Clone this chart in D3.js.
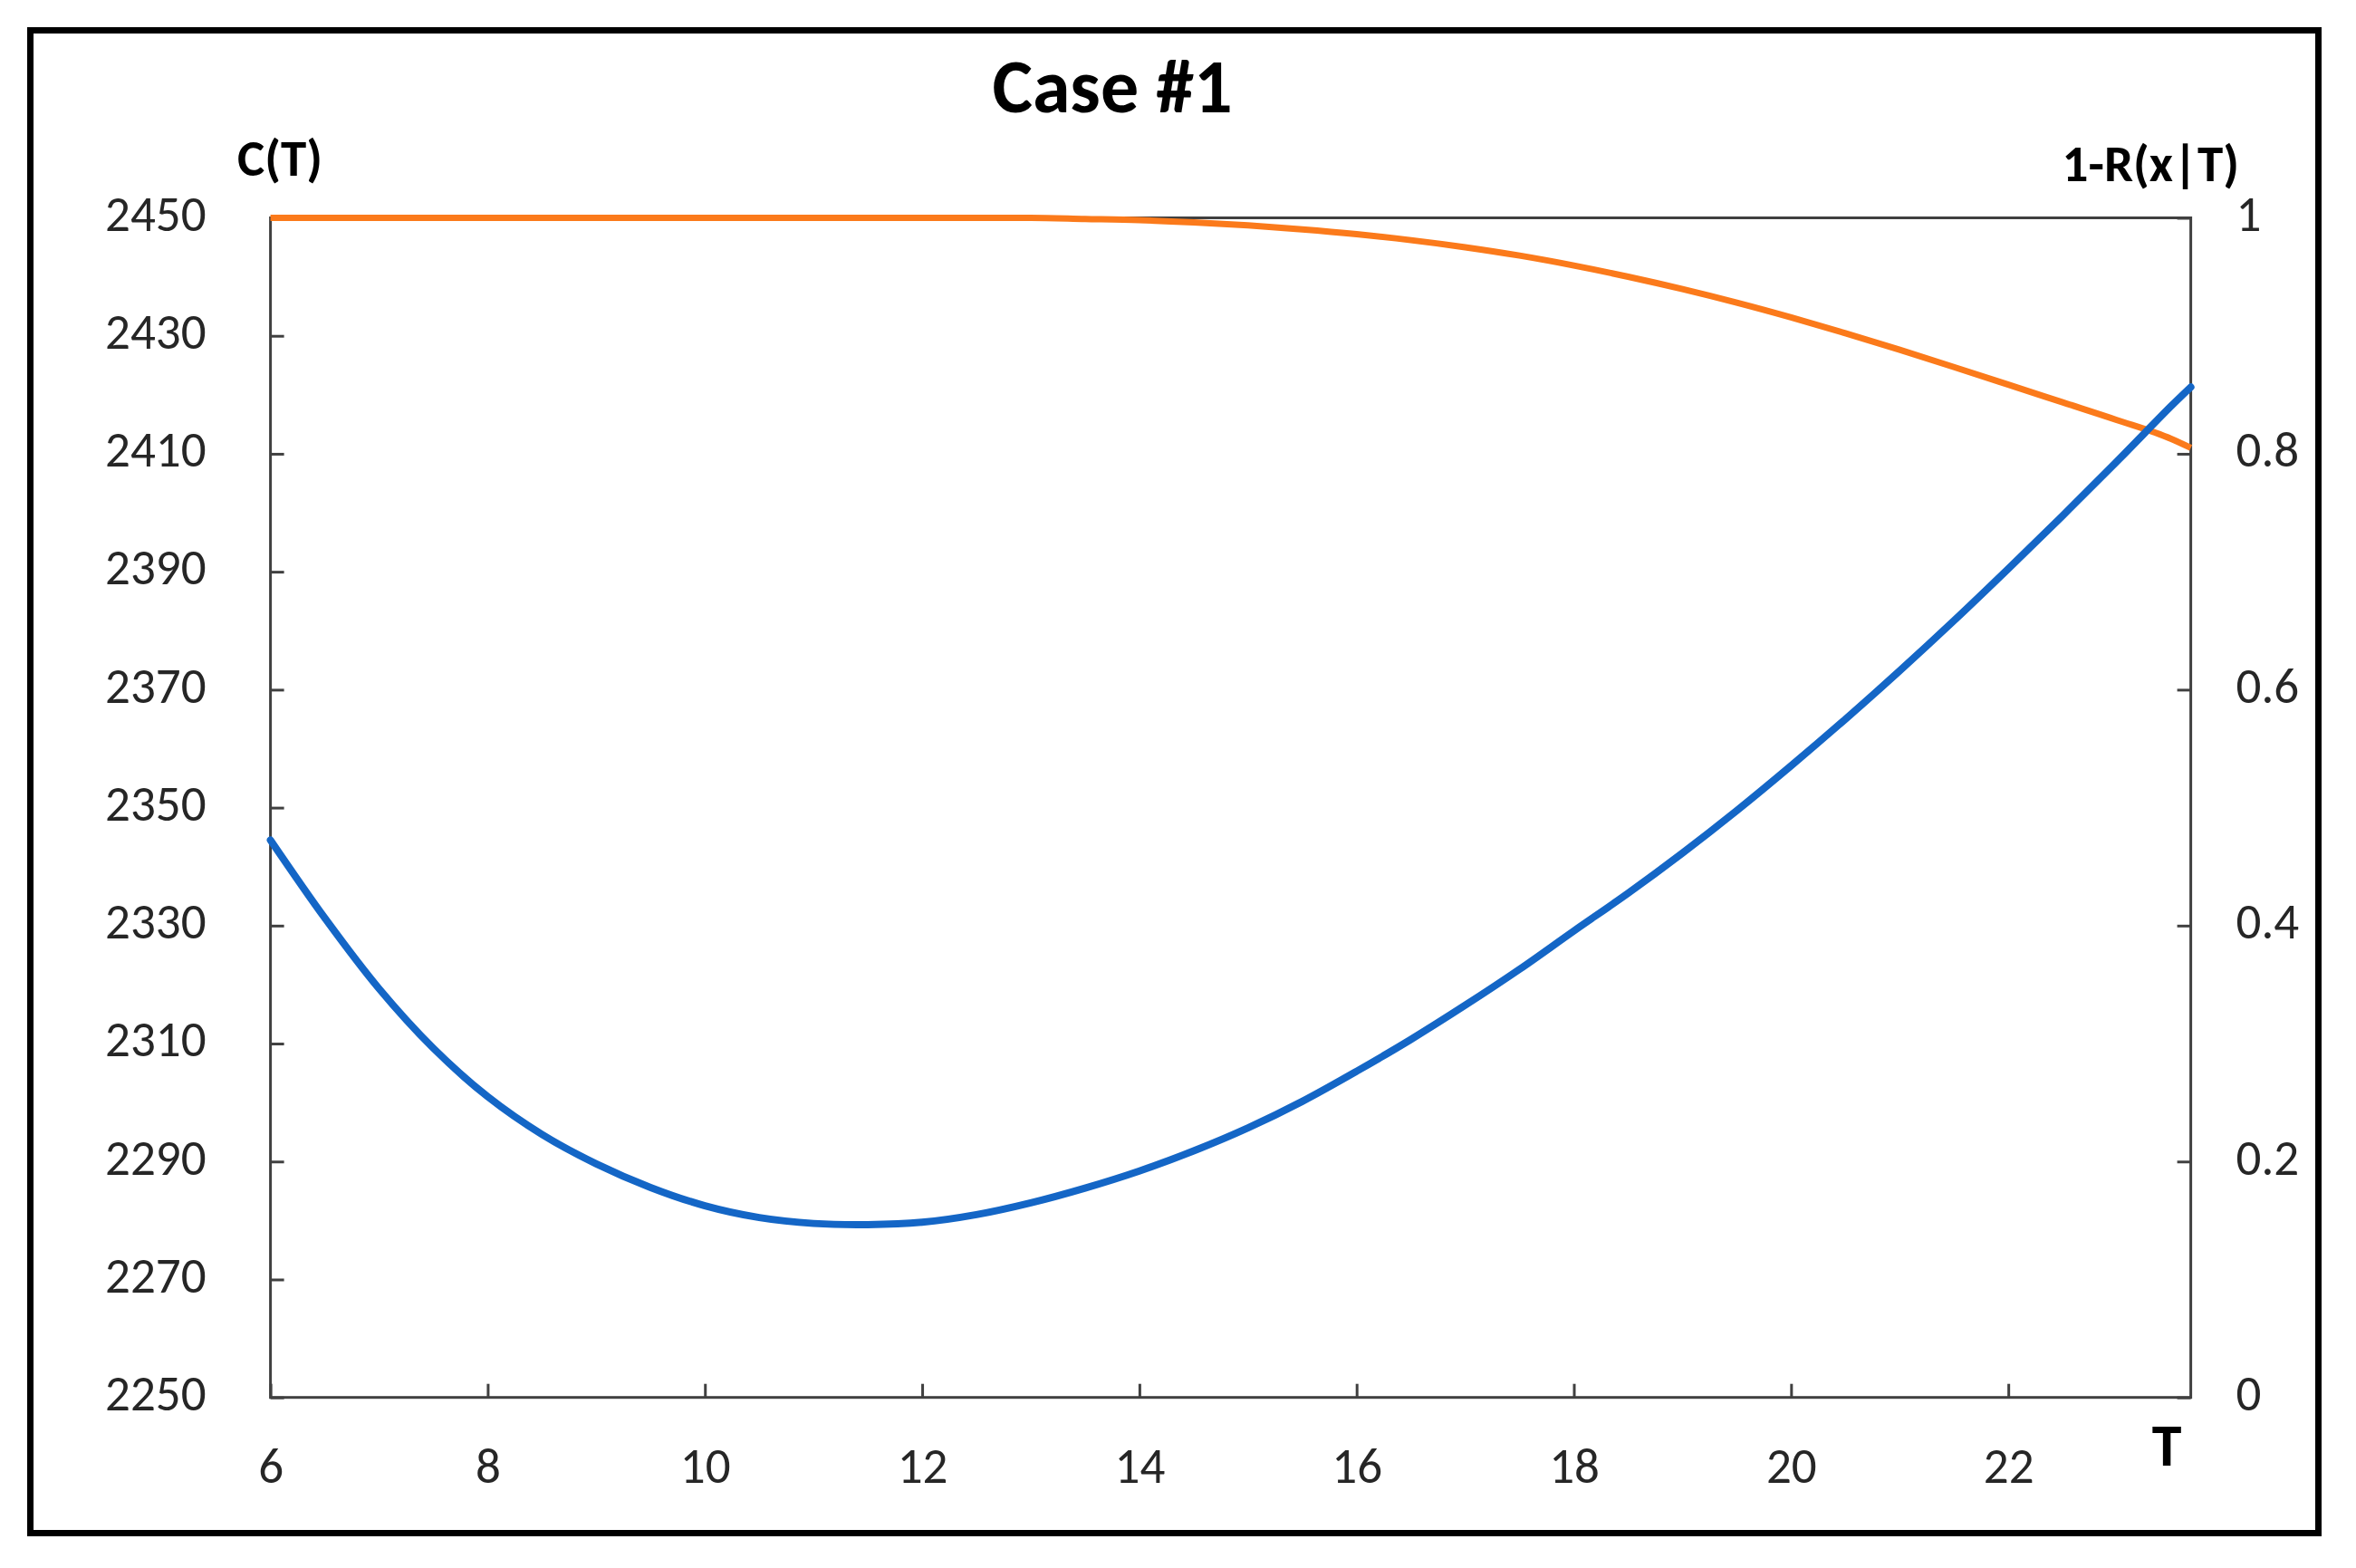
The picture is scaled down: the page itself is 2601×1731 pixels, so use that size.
<!DOCTYPE html>
<html>
<head>
<meta charset="utf-8">
<script src="https://cdn.jsdelivr.net/npm/d3@7"></script>
<style>
  html, body { margin: 0; padding: 0; background: #ffffff; }
  svg { display: block; }
</style>
</head>
<body>
<svg id="chart" width="2601" height="1731"></svg>
<script>
// ---- Data ----
const title = "Case #1";
const leftAxisLabel = "C(T)";
const rightAxisLabel = "1-R(x|T)";
const xAxisLabel = "T";

const xTicks = [6, 8, 10, 12, 14, 16, 18, 20, 22];
const leftTicks = [2250, 2270, 2290, 2310, 2330, 2350, 2370, 2390, 2410, 2430, 2450];
const rightTicks = [0, 0.2, 0.4, 0.6, 0.8, 1];

const T = [6, 6.5, 7, 7.5, 8, 8.5, 9, 9.5, 10, 10.5, 11, 11.5, 12, 12.5, 13, 13.5, 14, 14.5, 15,
           15.5, 16, 16.5, 17, 17.5, 18, 18.5, 19, 19.5, 20, 20.5, 21, 21.5, 22, 22.5, 23, 23.5, 23.68];
const costC = [2344.5, 2331.3, 2319.3, 2309.2, 2301.0, 2294.6, 2289.6, 2285.6, 2282.5, 2280.5, 2279.5, 2279.3, 2279.7, 2281.0, 2283.0, 2285.5, 2288.4, 2291.8, 2295.7,
               2300.2, 2305.3, 2310.7, 2316.5, 2322.6, 2329.1, 2335.5, 2342.3, 2349.5, 2357.1, 2365.0, 2373.2, 2381.7, 2390.5, 2399.5, 2408.7, 2418.1, 2421.3];
const unrel = [1, 1, 1, 1, 1, 1, 1, 1, 1, 1, 1, 1, 1, 1, 1, 0.9991, 0.9981, 0.9962, 0.9936,
               0.9902, 0.9861, 0.9811, 0.9751, 0.968, 0.9596, 0.9501, 0.9396, 0.9281, 0.9156, 0.9022, 0.8881, 0.8735, 0.8586, 0.8436, 0.8286, 0.8126, 0.805];

const xDomain = [6, 23.68];
const leftDomain = [2250, 2450];
const rightDomain = [0, 1];

// ---- Layout ----
const plot = { left: 298.6, right: 2418.6, top: 240.5, bottom: 1542.7 };
const FONT = "Carlito, Lato, 'Open Sans', sans-serif";
const axisColor = "#404040";
const textColor = "#262626";

const svg = d3.select("#chart");

// outer border
svg.append("rect")
  .attr("x", 33.5).attr("y", 33.5)
  .attr("width", 2526).attr("height", 1659)
  .attr("fill", "#ffffff")
  .attr("stroke", "#000000")
  .attr("stroke-width", 7);

const x = d3.scaleLinear().domain(xDomain).range([plot.left, plot.right]);
const yL = d3.scaleLinear().domain(leftDomain).range([plot.bottom, plot.top]);
const yR = d3.scaleLinear().domain(rightDomain).range([plot.bottom, plot.top]);

// plot frame
svg.append("rect")
  .attr("x", plot.left).attr("y", plot.top)
  .attr("width", plot.right - plot.left).attr("height", plot.bottom - plot.top)
  .attr("fill", "none")
  .attr("stroke", axisColor)
  .attr("stroke-width", 3);

function styleAxis(g) {
  g.select(".domain").remove();
  g.selectAll(".tick line").attr("stroke", axisColor).attr("stroke-width", 3);
  g.selectAll(".tick text")
    .attr("fill", textColor)
    .style("font-family", FONT)
    .style("font-size", "55px");
}

const gl = svg.append("g")
  .attr("transform", `translate(${plot.left},0)`)
  .call(d3.axisLeft(yL).tickValues(leftTicks).tickFormat(d3.format("d"))
    .tickSizeInner(-15).tickSizeOuter(0).tickPadding(71))
  .call(styleAxis);
gl.selectAll(".tick text").attr("dy", "0.25em");

const gr = svg.append("g")
  .attr("transform", `translate(${plot.right},0)`)
  .call(d3.axisRight(yR).tickValues(rightTicks).tickFormat(d => d3.format("")(+d.toFixed(1)))
    .tickSizeInner(-15).tickSizeOuter(0).tickPadding(50))
  .call(styleAxis);
gr.selectAll(".tick text").attr("dy", "0.25em");

svg.append("g")
  .attr("transform", `translate(0,${plot.bottom})`)
  .call(d3.axisBottom(x).tickValues(xTicks).tickFormat(d3.format("d"))
    .tickSizeInner(-15).tickSizeOuter(0).tickPadding(55))
  .call(styleAxis);

// series lines
const lineC = d3.line().x((d, i) => x(T[i])).y(d => yL(d)).curve(d3.curveCatmullRom.alpha(0.5));
const lineR = d3.line().x((d, i) => x(T[i])).y(d => yR(d)).curve(d3.curveMonotoneX);

svg.append("path")
  .attr("d", lineR(unrel))
  .attr("fill", "none")
  .attr("stroke", "#fb7a1b")
  .attr("stroke-width", 7)
  .attr("stroke-linejoin", "round");

svg.append("path")
  .attr("d", lineC(costC))
  .attr("fill", "none")
  .attr("stroke", "#1466c6")
  .attr("stroke-width", 8)
  .attr("stroke-linejoin", "round")
  .attr("stroke-linecap", "round");

// texts
svg.append("text")
  .attr("x", 1228).attr("y", 124)
  .attr("text-anchor", "middle")
  .style("font-family", FONT).style("font-weight", "bold").style("font-size", "84px")
  .attr("fill", "#000")
  .text(title);

svg.append("text")
  .attr("x", 262).attr("y", 194)
  .attr("text-anchor", "start")
  .style("font-family", FONT).style("font-weight", "bold").style("font-size", "57px")
  .attr("fill", "#000")
  .text(leftAxisLabel);

svg.append("text")
  .attr("x", 2472).attr("y", 200)
  .attr("text-anchor", "end")
  .style("font-family", FONT).style("font-weight", "bold").style("font-size", "57px")
  .attr("fill", "#000")
  .text(rightAxisLabel);

svg.append("text")
  .attr("x", 2392).attr("y", 1618)
  .attr("text-anchor", "middle")
  .style("font-family", FONT).style("font-weight", "bold").style("font-size", "66px")
  .attr("fill", "#000")
  .text(xAxisLabel);
</script>
</body>
</html>
